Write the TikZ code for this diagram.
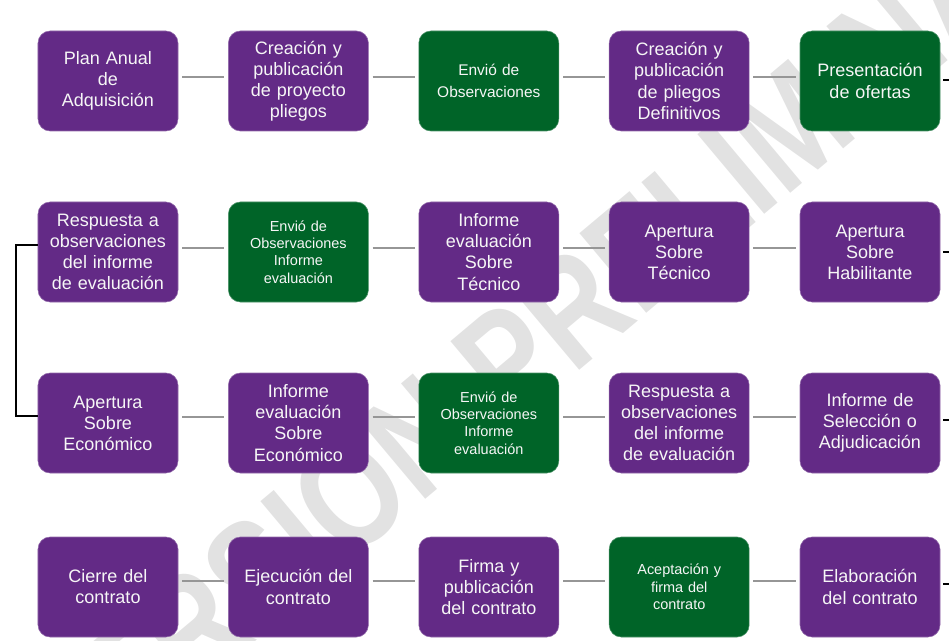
\documentclass[tikz,border=0pt]{standalone}
\usepackage{fontspec}
\setmainfont{Liberation Sans}
\usepackage{tikz}
\usetikzlibrary{positioning}
\usetikzlibrary{calc}
\definecolor{pasopurple}{RGB}{99,42,134}
\definecolor{pasogreen}{RGB}{0,100,40}
\definecolor{pasoline}{RGB}{150,150,150}
\definecolor{pasotext}{RGB}{246,246,246}
\definecolor{pasomark}{RGB}{226,226,226}
\tikzset{
  paso/.style={rounded corners=0.3cm, minimum width=3.5cm, minimum height=2.5cm,
    text width=3.3cm, inner sep=0.1cm, align=center, text=pasotext,
    font=\fontsize{12.8}{15}\selectfont},
  pasop/.style={paso, fill=pasopurple, draw=pasopurple!70!white, line width=0.4pt},
  pasog/.style={paso, fill=pasogreen, draw=pasogreen!70!white, line width=0.4pt},
  medio/.style={font=\fontsize{11}{15.6}\selectfont},
  chico/.style={font=\fontsize{10.3}{12.4}\selectfont},
  enlace/.style={draw=pasoline, line width=1.1pt, shorten >=0.1cm, shorten <=0.1cm},
  salida/.style={draw=black, line width=1.5pt}
}
\begin{document}
\begin{tikzpicture}
  \useasboundingbox (0,0) rectangle (23.725,-16.025);
  \node[rotate=40, yscale=1.25, text=pasomark, font=\fontsize{86}{86}\selectfont\bfseries] (marca) at (13.4,-8.0) {VERSIÓN PRELIMINAR};

  \node[pasop] (plan) at (2.7,-2.025) {Plan Anual\\de\\Adquisición};
  \node[pasop] (proyecto) at (7.46,-2.025) {Creación y publicación de proyecto pliegos};
  \node[pasog, medio] (envio) at (12.22,-2.025) {Envió de\\Observaciones};
  \node[pasop] (definitivos) at (16.98,-2.025) {Creación y publicación de pliegos Definitivos};
  \node[pasog] (ofertas) at (21.75,-2.025) {Presentación\\de ofertas};

  \node[pasop] (respuesta) at (2.7,-6.3) {Respuesta a observaciones del informe de evaluación};
  \node[pasog, chico] (envioinf) at (7.46,-6.3) {Envió de\\Observaciones\\Informe\\evaluación};
  \node[pasop] (tecnico) at (12.22,-6.3) {Informe\\evaluación\\Sobre\\Técnico};
  \node[pasop] (apertec) at (16.98,-6.3) {Apertura\\Sobre\\Técnico};
  \node[pasop] (aperhab) at (21.75,-6.3) {Apertura\\Sobre\\Habilitante};

  \node[pasop] (aperecon) at (2.7,-10.575) {Apertura\\Sobre\\Económico};
  \node[pasop] (economico) at (7.46,-10.575) {Informe\\evaluación\\Sobre\\Económico};
  \node[pasog, chico] (envioecon) at (12.22,-10.575) {Envió de\\Observaciones\\Informe\\evaluación};
  \node[pasop] (respecon) at (16.98,-10.575) {Respuesta a observaciones del informe de evaluación};
  \node[pasop] (seleccion) at (21.75,-10.575) {Informe de\\Selección o\\Adjudicación};

  \node[pasop] (cierre) at (2.7,-14.675) {Cierre del\\contrato};
  \node[pasop] (ejecucion) at (7.46,-14.675) {Ejecución del\\contrato};
  \node[pasop] (firma) at (12.22,-14.675) {Firma y\\publicación\\del contrato};
  \node[pasog, chico] (aceptacion) at (16.98,-14.675) {Aceptación y\\firma del\\contrato};
  \node[pasop] (elaboracion) at (21.75,-14.675) {Elaboración\\del contrato};

  \draw[enlace] ([yshift=1mm]plan.east) -- ([yshift=1mm]proyecto.west);
  \draw[enlace] ([yshift=1mm]proyecto.east) -- ([yshift=1mm]envio.west);
  \draw[enlace] ([yshift=1mm]envio.east) -- ([yshift=1mm]definitivos.west);
  \draw[enlace] ([yshift=1mm]definitivos.east) -- ([yshift=1mm]ofertas.west);
  \draw[enlace] ([yshift=1mm]respuesta.east) -- ([yshift=1mm]envioinf.west);
  \draw[enlace] ([yshift=1mm]envioinf.east) -- ([yshift=1mm]tecnico.west);
  \draw[enlace] ([yshift=1mm]tecnico.east) -- ([yshift=1mm]apertec.west);
  \draw[enlace] ([yshift=1mm]apertec.east) -- ([yshift=1mm]aperhab.west);
  \draw[enlace] ([yshift=1.5mm]aperecon.east) -- ([yshift=1.5mm]economico.west);
  \draw[enlace] ([yshift=1.5mm]economico.east) -- ([yshift=1.5mm]envioecon.west);
  \draw[enlace] ([yshift=1.5mm]envioecon.east) -- ([yshift=1.5mm]respecon.west);
  \draw[enlace] ([yshift=1.5mm]respecon.east) -- ([yshift=1.5mm]seleccion.west);
  \draw[enlace] ([yshift=1.5mm]cierre.east) -- ([yshift=1.5mm]ejecucion.west);
  \draw[enlace] ([yshift=1.5mm]ejecucion.east) -- ([yshift=1.5mm]firma.west);
  \draw[enlace] ([yshift=1.5mm]firma.east) -- ([yshift=1.5mm]aceptacion.west);
  \draw[enlace] ([yshift=1.5mm]aceptacion.east) -- ([yshift=1.5mm]elaboracion.west);

  \coordinate (fin1) at (23.725,-2.0);
  \coordinate (fin2) at (23.725,-6.3);
  \coordinate (fin3) at (23.725,-10.5);
  \coordinate (fin4) at (23.725,-14.6);
  \draw[salida] ([xshift=0.08cm]ofertas.east |- fin1) -- (fin1);
  \draw[salida] ([xshift=0.08cm]aperhab.east |- fin2) -- (fin2);
  \draw[salida] ([xshift=0.08cm]seleccion.east |- fin3) -- (fin3);
  \draw[salida] ([xshift=0.08cm]elaboracion.east |- fin4) -- (fin4);

  \draw[salida] ([yshift=1.7mm]respuesta.west) -- ++(-0.55,0) |- ([yshift=1.7mm]aperecon.west);
\end{tikzpicture}
\end{document}
